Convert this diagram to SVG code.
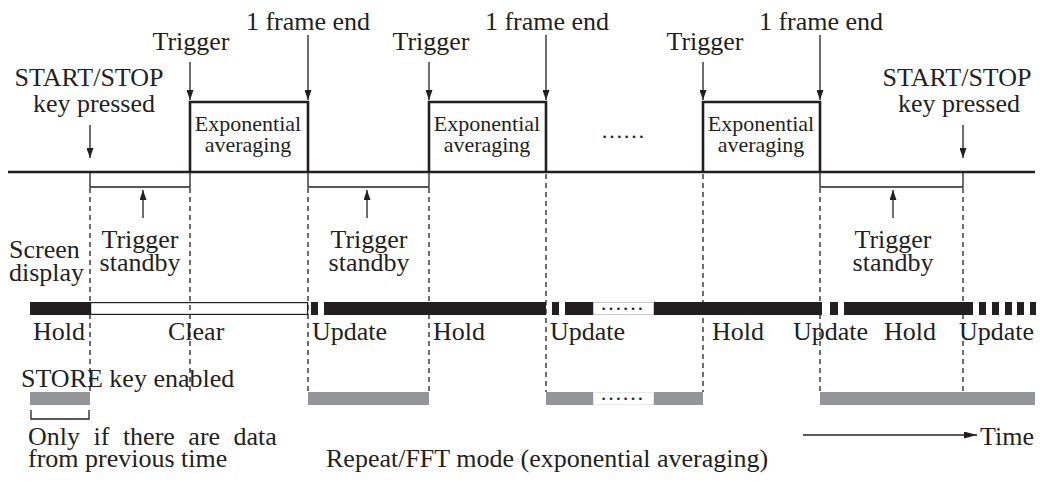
<svg xmlns="http://www.w3.org/2000/svg" width="1042" height="483" viewBox="0 0 1042 483">
<style>
text{font-family:"Liberation Serif","Times New Roman",serif;fill:#231f20;font-size:26px}
.sm{font-size:22px}
.mid{text-anchor:middle}
.thick{fill:none;stroke:#231f20;stroke-width:2.6}
.thin{fill:none;stroke:#231f20;stroke-width:1.3}
.dash{fill:none;stroke:#231f20;stroke-width:1.3;stroke-dasharray:5 4}
.blk{fill:#231f20}
.gry{fill:#939598}
</style>
<defs>
<marker id="ah" viewBox="0 0 10 7" refX="10" refY="3.5" markerWidth="10" markerHeight="7" markerUnits="userSpaceOnUse" orient="auto">
<path d="M0,0 L10,3.5 L0,7 z" fill="#231f20"/>
</marker>
<marker id="ah2" viewBox="0 0 13 7" refX="13" refY="3.5" markerWidth="13" markerHeight="7" markerUnits="userSpaceOnUse" orient="auto">
<path d="M0,0 L13,3.5 L0,7 z" fill="#231f20"/>
</marker>
</defs>

<g id="timeline">
<line class="thick" x1="8" y1="172" x2="1035" y2="172"/>
</g>

<g id="pulse1">
<path class="thick" d="M190,172 V102 H308 V172"/>
<text class="sm mid" x="248" y="131">Exponential</text>
<text class="sm mid" x="248" y="152">averaging</text>
</g>
<g id="pulse2">
<path class="thick" d="M429,172 V102 H546 V172"/>
<text class="sm mid" x="487" y="131">Exponential</text>
<text class="sm mid" x="487" y="152">averaging</text>
</g>
<g id="pulse3">
<path class="thick" d="M703,172 V102 H820 V172"/>
<text class="sm mid" x="761" y="131">Exponential</text>
<text class="sm mid" x="761" y="152">averaging</text>
</g>
<g id="dots-top">
<text class="sm mid" x="623" y="138">……</text>
</g>

<g id="labels-top">
<text class="mid" x="89" y="86">START/STOP</text>
<text class="mid" x="94" y="112">key pressed</text>
<text class="mid" x="957" y="86">START/STOP</text>
<text class="mid" x="959" y="112">key pressed</text>
<text class="mid" x="191" y="50">Trigger</text>
<text class="mid" x="431" y="50">Trigger</text>
<text class="mid" x="705" y="50">Trigger</text>
<text class="mid" x="308" y="30">1 frame end</text>
<text class="mid" x="547" y="30">1 frame end</text>
<text class="mid" x="821" y="30">1 frame end</text>
</g>

<g id="standby1">
<path class="thin" d="M90,173 V187 H190 V173"/>
<text class="mid" x="140" y="248">Trigger</text>
<text class="mid" x="140" y="271">standby</text>
</g>
<g id="standby2">
<path class="thin" d="M308,173 V187 H429 V173"/>
<text class="mid" x="369" y="248">Trigger</text>
<text class="mid" x="369" y="271">standby</text>
</g>
<g id="standby3">
<path class="thin" d="M820,173 V187 H963 V173"/>
<text class="mid" x="893" y="248">Trigger</text>
<text class="mid" x="893" y="271">standby</text>
</g>

<g id="screen-display">
<text x="9" y="258">Screen</text>
<text x="9" y="281">display</text>
<rect class="blk" x="30" y="302" width="60" height="13"/>
<rect x="90.6" y="302.6" width="217" height="11.8" fill="#fff" stroke="#231f20" stroke-width="1.2"/>
<rect class="blk" x="311" y="302" width="7" height="13"/>
<rect class="blk" x="324" y="302" width="222" height="13"/>
<rect class="blk" x="552" y="302" width="7" height="13"/>
<rect class="blk" x="565" y="302" width="28" height="13"/>
<rect x="593.5" y="302.5" width="60" height="12" fill="#fff" stroke="#c8c8c8" stroke-width="1"/>
<text class="sm mid" x="622" y="310">……</text>
<rect class="blk" x="654" y="302" width="168" height="13"/>
<rect class="blk" x="830" y="302" width="8" height="13"/>
<rect class="blk" x="844" y="302" width="129" height="13"/>
<rect class="blk" x="979" y="302" width="7" height="13"/>
<rect class="blk" x="992" y="302" width="7" height="13"/>
<rect class="blk" x="1005" y="302" width="7" height="13"/>
<rect class="blk" x="1017" y="302" width="7" height="13"/>
<rect class="blk" x="1030" y="302" width="6" height="13"/>
<text x="33" y="340">Hold</text>
<text x="168" y="340">Clear</text>
<text x="312" y="340">Update</text>
<text x="433" y="340">Hold</text>
<text x="550" y="340">Update</text>
<text x="712" y="340">Hold</text>
<text x="793" y="340">Update</text>
<text x="884" y="340">Hold</text>
<text x="959" y="340">Update</text>
</g>

<g id="store-key">
<text x="21" y="387">STORE key enabled</text>
<rect class="gry" x="30" y="392" width="60" height="13"/>
<rect class="gry" x="308" y="392" width="121" height="13"/>
<rect class="gry" x="546" y="392" width="47" height="13"/>
<rect x="593.5" y="392.5" width="60" height="12" fill="#fff" stroke="#e6e6e6" stroke-width="1"/>
<text class="sm mid" x="622" y="400">……</text>
<rect class="gry" x="654" y="392" width="49" height="13"/>
<rect class="gry" x="820" y="392" width="215" height="13"/>
<path class="thin" d="M31,410 V419 H89 V410"/>
<text x="28" y="445" word-spacing="7">Only if there are data</text>
<text x="28" y="467">from previous time</text>
</g>

<g id="caption">
<text x="326" y="467">Repeat/FFT mode (exponential averaging)</text>
<text x="980" y="445">Time</text>
</g>

<g id="connectors">
<line class="thin" x1="90" y1="125" x2="90" y2="158" marker-end="url(#ah)"/>
<line class="thin" x1="963" y1="125" x2="963" y2="158" marker-end="url(#ah)"/>
<line class="thin" x1="190" y1="62" x2="190" y2="100" marker-end="url(#ah)"/>
<line class="thin" x1="429" y1="62" x2="429" y2="100" marker-end="url(#ah)"/>
<line class="thin" x1="703" y1="62" x2="703" y2="100" marker-end="url(#ah)"/>
<line class="thin" x1="308" y1="35" x2="308" y2="100" marker-end="url(#ah)"/>
<line class="thin" x1="546" y1="35" x2="546" y2="100" marker-end="url(#ah)"/>
<line class="thin" x1="820" y1="35" x2="820" y2="100" marker-end="url(#ah)"/>
<line class="thin" x1="143" y1="218" x2="143" y2="190" marker-end="url(#ah)"/>
<line class="thin" x1="367" y1="218" x2="367" y2="190" marker-end="url(#ah)"/>
<line class="thin" x1="893" y1="218" x2="893" y2="190" marker-end="url(#ah)"/>
<line class="dash" x1="90" y1="188" x2="90" y2="392"/>
<line class="dash" x1="190" y1="188" x2="190" y2="392"/>
<line class="dash" x1="308" y1="188" x2="308" y2="392"/>
<line class="dash" x1="429" y1="188" x2="429" y2="392"/>
<line class="dash" x1="546" y1="174" x2="546" y2="392"/>
<line class="dash" x1="703" y1="174" x2="703" y2="392"/>
<line class="dash" x1="820" y1="188" x2="820" y2="392"/>
<line class="dash" x1="963" y1="188" x2="963" y2="392"/>
<line class="thin" x1="803" y1="435" x2="977" y2="435" marker-end="url(#ah2)"/>
</g>
</svg>
